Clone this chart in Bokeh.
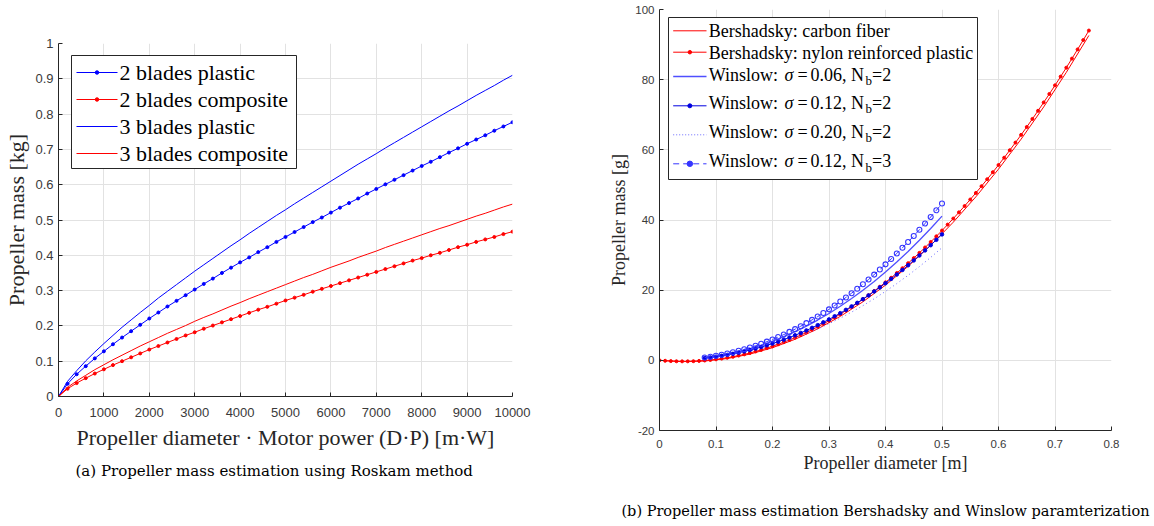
from bokeh.plotting import figure
from bokeh.models import Range1d, FixedTicker, Label, BoxAnnotation, Title, LinearAxis
from bokeh.layouts import row, column
from bokeh.embed import file_html
from bokeh.resources import INLINE

# ---------------- data: (a) Roskam ----------------
dp_mw = [0, 200, 400, 600, 800, 1000, 1200, 1400, 1600, 1800, 2000, 2200, 2400, 2600, 2800,
         3000, 3200, 3400, 3600, 3800, 4000, 4200, 4400, 4600, 4800, 5000, 5200, 5400, 5600,
         5800, 6000, 6200, 6400, 6600, 6800, 7000, 7200, 7400, 7600, 7800, 8000, 8200, 8400,
         8600, 8800, 9000, 9200, 9400, 9600, 9800, 10000]
mass_2b_plastic = [0, 0.036, 0.063, 0.086, 0.108, 0.128, 0.148, 0.167, 0.185, 0.203, 0.221, 0.238,
                   0.255, 0.271, 0.287, 0.303, 0.319, 0.334, 0.350, 0.365, 0.380, 0.394, 0.409,
                   0.423, 0.438, 0.452, 0.466, 0.480, 0.494, 0.507, 0.521, 0.535, 0.548, 0.561,
                   0.575, 0.588, 0.601, 0.614, 0.627, 0.640, 0.653, 0.665, 0.678, 0.691, 0.703,
                   0.716, 0.728, 0.740, 0.753, 0.765, 0.777]
mass_2b_composite = [0, 0.022, 0.038, 0.052, 0.065, 0.077, 0.089, 0.100, 0.111, 0.122, 0.133, 0.143,
                     0.153, 0.163, 0.173, 0.182, 0.192, 0.201, 0.210, 0.219, 0.228, 0.237, 0.246,
                     0.254, 0.263, 0.272, 0.280, 0.288, 0.297, 0.305, 0.313, 0.321, 0.329, 0.337,
                     0.345, 0.353, 0.361, 0.369, 0.377, 0.385, 0.392, 0.400, 0.407, 0.415, 0.423,
                     0.430, 0.438, 0.445, 0.452, 0.460, 0.467]
mass_3b_plastic = [0, 0.043, 0.073, 0.101, 0.126, 0.150, 0.173, 0.196, 0.217, 0.238, 0.258, 0.279,
                   0.298, 0.317, 0.336, 0.355, 0.373, 0.391, 0.409, 0.427, 0.444, 0.462, 0.479,
                   0.496, 0.513, 0.529, 0.546, 0.562, 0.578, 0.594, 0.610, 0.626, 0.642, 0.658,
                   0.673, 0.688, 0.704, 0.719, 0.734, 0.749, 0.764, 0.779, 0.794, 0.809, 0.823,
                   0.838, 0.853, 0.867, 0.881, 0.896, 0.910]
mass_3b_composite = [0, 0.026, 0.044, 0.060, 0.076, 0.090, 0.104, 0.117, 0.130, 0.143, 0.155, 0.167,
                     0.179, 0.190, 0.201, 0.213, 0.224, 0.234, 0.245, 0.256, 0.266, 0.277, 0.287,
                     0.297, 0.307, 0.317, 0.327, 0.337, 0.346, 0.356, 0.366, 0.375, 0.384, 0.394,
                     0.403, 0.412, 0.422, 0.431, 0.440, 0.449, 0.458, 0.467, 0.476, 0.484, 0.493,
                     0.502, 0.511, 0.519, 0.528, 0.537, 0.545]
a_xticks = [0, 1000, 2000, 3000, 4000, 5000, 6000, 7000, 8000, 9000, 10000]
a_xlabels = ["0", "1000", "2000", "3000", "4000", "5000", "6000", "7000", "8000", "9000", "10000"]
a_yticks = [0, 0.1, 0.2, 0.3, 0.4, 0.5, 0.6, 0.7, 0.8, 0.9, 1]
a_ylabels = ["0", "0.1", "0.2", "0.3", "0.4", "0.5", "0.6", "0.7", "0.8", "0.9", "1"]
a_names = ["2 blades plastic", "2 blades composite", "3 blades plastic", "3 blades composite"]
a_caption = "(a) Propeller mass estimation using Roskam method"

# ---------------- data: (b) Bershadsky / Winslow ----------------
diam_nylon = [0, 0.01, 0.02, 0.03, 0.04, 0.05, 0.06, 0.07, 0.08, 0.09, 0.10, 0.11, 0.12, 0.13,
              0.14, 0.15, 0.16, 0.17, 0.18, 0.19, 0.20, 0.21, 0.22, 0.23, 0.24, 0.25, 0.26, 0.27,
              0.28, 0.29, 0.30, 0.31, 0.32, 0.33, 0.34, 0.35, 0.36, 0.37, 0.38, 0.39, 0.40, 0.41,
              0.42, 0.43, 0.44, 0.45, 0.46, 0.47, 0.48, 0.49, 0.50, 0.51, 0.52, 0.53, 0.54, 0.55,
              0.56, 0.57, 0.58, 0.59, 0.60, 0.61, 0.62, 0.63, 0.64, 0.65, 0.66, 0.67, 0.68, 0.69,
              0.70, 0.71, 0.72, 0.73, 0.74, 0.75, 0.76]
mass_nylon = [0, -0.12, -0.21, -0.27, -0.29, -0.28, -0.24, -0.16, -0.05, 0.10, 0.28, 0.49, 0.74,
              1.03, 1.35, 1.70, 2.09, 2.52, 2.97, 3.47, 4.00, 4.57, 5.17, 5.80, 6.48, 7.19, 7.93,
              8.72, 9.53, 10.39, 11.28, 12.21, 13.17, 14.18, 15.22, 16.29, 17.41, 18.56, 19.75,
              20.98, 22.24, 23.54, 24.88, 26.26, 27.68, 29.14, 30.63, 32.17, 33.74, 35.35, 37.00,
              38.69, 40.42, 42.18, 43.99, 45.84, 47.73, 49.65, 51.62, 53.63, 55.67, 57.76, 59.89,
              62.06, 64.27, 66.52, 68.81, 71.14, 73.51, 75.93, 78.38, 80.88, 83.42, 86.00, 88.63,
              91.29, 94.00]
diam_carbon = [0, 0.04, 0.08, 0.12, 0.16, 0.20, 0.24, 0.28, 0.32, 0.36, 0.40, 0.44, 0.48, 0.52,
               0.56, 0.60, 0.64, 0.68, 0.72, 0.76]
mass_carbon = [0, -0.37, -0.20, 0.51, 1.77, 3.60, 6.00, 8.97, 12.53, 16.68, 21.43, 26.79, 32.77,
               39.38, 46.62, 54.50, 63.03, 72.22, 82.07, 92.60]
diam_winslow = [0.08, 0.10, 0.12, 0.14, 0.16, 0.18, 0.20, 0.22, 0.24, 0.26, 0.28, 0.30, 0.32,
                0.34, 0.36, 0.38, 0.40, 0.42, 0.44, 0.46, 0.48, 0.50]
mass_w006_n2 = [0.73, 1.19, 1.78, 2.50, 3.35, 4.34, 5.48, 6.76, 8.18, 9.75, 11.48, 13.36, 15.40,
                17.61, 19.96, 22.48, 25.16, 28.02, 31.03, 34.22, 37.58, 41.10]
mass_w020_n2 = [0.57, 0.93, 1.39, 1.95, 2.62, 3.39, 4.28, 5.27, 6.39, 7.62, 8.96, 10.43, 12.03,
                13.75, 15.58, 17.55, 19.65, 21.88, 24.23, 26.72, 29.34, 32.10]
diam_winslow_fine = [0.08, 0.09, 0.10, 0.11, 0.12, 0.13, 0.14, 0.15, 0.16, 0.17, 0.18, 0.19, 0.20,
                     0.21, 0.22, 0.23, 0.24, 0.25, 0.26, 0.27, 0.28, 0.29, 0.30, 0.31, 0.32, 0.33,
                     0.34, 0.35, 0.36, 0.37, 0.38, 0.39, 0.40, 0.41, 0.42, 0.43, 0.44, 0.45, 0.46,
                     0.47, 0.48, 0.49, 0.50]
mass_w012_n2 = [0.64, 0.83, 1.04, 1.28, 1.55, 1.85, 2.18, 2.54, 2.93, 3.35, 3.79, 4.27, 4.78, 5.33,
                5.90, 6.51, 7.14, 7.82, 8.52, 9.26, 10.03, 10.83, 11.67, 12.55, 13.45, 14.39,
                15.38, 16.38, 17.43, 18.51, 19.64, 20.79, 21.98, 23.21, 24.47, 25.77, 27.10,
                28.48, 29.89, 31.34, 32.82, 34.35, 35.90]
mass_w012_n3 = [0.79, 1.03, 1.30, 1.60, 1.94, 2.31, 2.72, 3.16, 3.65, 4.16, 4.72, 5.32, 5.95, 6.63,
                7.35, 8.10, 8.89, 9.73, 10.61, 11.53, 12.48, 13.49, 14.53, 15.62, 16.75, 17.92,
                19.14, 20.40, 21.70, 23.04, 24.44, 25.88, 27.36, 28.89, 30.46, 32.08, 33.74,
                35.45, 37.21, 39.01, 40.86, 42.76, 44.70]
b_xticks = [0, 0.1, 0.2, 0.3, 0.4, 0.5, 0.6, 0.7, 0.8]
b_xlabels = ["0", "0.1", "0.2", "0.3", "0.4", "0.5", "0.6", "0.7", "0.8"]
b_yticks = [-20, 0, 20, 40, 60, 80, 100]
b_ylabels = ["-20", "0", "20", "40", "60", "80", "100"]
b_sigma = ["0.06", "0.12", "0.20", "0.12"]
b_nb = ["2", "2", "2", "3"]
b_caption = "(b) Propeller mass estimation Bershadsky and Winslow paramterization"

SERIF = "Liberation Serif"
SANS = "Liberation Sans"
CAPFONT = "DejaVu Serif"
AX = "#262626"
BLUE = "#0000ff"
RED = "#ff0000"


def style(p, xt, xl, yt, yl, tick_size, label_size, xstand, xlstand, ystand, ylstand):
    p.outline_line_color = None
    p.background_fill_color = "white"
    p.border_fill_color = "white"
    for ax, ticks, labels in ((p.xaxis[0], xt, xl), (p.yaxis[0], yt, yl)):
        ax.ticker = FixedTicker(ticks=ticks)
        ax.major_label_overrides = dict(zip(ticks, labels))
        ax.minor_tick_line_color = None
        ax.major_tick_in = 4
        ax.major_tick_out = 0
        ax.axis_line_color = AX
        ax.major_tick_line_color = AX
        ax.major_label_text_font = SANS
        ax.major_label_text_font_size = tick_size
        ax.major_label_text_color = "#3a3a3a"
        ax.axis_label_text_font = SERIF
        ax.axis_label_text_font_style = "normal"
        ax.axis_label_text_font_size = label_size
        ax.axis_label_text_color = AX
    p.xaxis[0].major_label_standoff = xstand
    p.xaxis[0].axis_label_standoff = xlstand
    p.yaxis[0].major_label_standoff = ystand
    p.yaxis[0].axis_label_standoff = ylstand
    p.grid.grid_line_color = "#e2e2e2"
    p.grid.grid_line_width = 1


def add_label(p, txt, x, y, size, style_="normal", font=SERIF):
    p.add_layout(Label(x=x, y=y, text=txt, text_font=font, text_font_size=size,
                       text_font_style=style_, text_baseline="middle", text_align="left",
                       text_color="black", level="overlay"))


# ---------------- figure (a) ----------------
A_L, A_T, A_W, A_H = 58.0, 43.0, 454.0, 353.0   # frame in page pixels
p1 = figure(width=590, height=518, min_border_left=58, min_border_right=78,
            min_border_top=43, min_border_bottom=122,
            x_range=Range1d(0, 10000), y_range=Range1d(0, 1),
            x_axis_label="Propeller diameter \u00b7 Motor power (D\u00b7P) [m\u00b7W]",
            y_axis_label="Propeller mass [kg]",
            output_backend="svg", toolbar_location=None, tools="")
style(p1, a_xticks, a_xlabels, a_yticks, a_ylabels, "13px", "22px", 11, 5, 5, 3)

p1.line(dp_mw, mass_2b_plastic, line_color=BLUE, line_width=1)
p1.scatter(dp_mw, mass_2b_plastic, size=3, marker="circle", fill_color=BLUE, line_color=BLUE)
p1.line(dp_mw, mass_2b_composite, line_color=RED, line_width=1)
p1.scatter(dp_mw, mass_2b_composite, size=3, marker="circle", fill_color=RED, line_color=RED)
p1.line(dp_mw, mass_3b_plastic, line_color=BLUE, line_width=1)
p1.line(dp_mw, mass_3b_composite, line_color=RED, line_width=1)


def ax_(px):
    return (px - A_L) / A_W * 10000


def ay_(py):
    return 1 - (py - A_T) / A_H


p1.add_layout(BoxAnnotation(left=ax_(71), right=ax_(296), top=ay_(55), bottom=ay_(168),
                            fill_color="white", fill_alpha=1, line_color=AX, line_width=1,
                            line_alpha=1))
a_rows = [72.0, 99.0, 126.0, 153.0]
a_cols = [BLUE, RED, BLUE, RED]
for i, yy in enumerate(a_rows):
    p1.line([ax_(76), ax_(117)], [ay_(yy), ay_(yy)], line_color=a_cols[i], line_width=1,
            level="overlay")
    if i < 2:
        p1.scatter([ax_(96.5)], [ay_(yy)], size=3.5, marker="circle", fill_color=a_cols[i],
                   line_color=a_cols[i], level="overlay")
    add_label(p1, a_names[i], ax_(119), ay_(yy), "22px")

cap1 = Title(text=a_caption, align="left", offset=17,
             text_font=CAPFONT, text_font_size="15px", text_font_style="normal",
             text_color="black", standoff=15)
p1.add_layout(cap1, "below")

# ---------------- figure (b) ----------------
B_L, B_T, B_W, B_H = 659.0, 9.0, 452.0, 421.0
p2 = figure(width=564, height=526, min_border_left=69, min_border_right=43,
            min_border_top=9, min_border_bottom=96,
            x_range=Range1d(0, 0.8), y_range=Range1d(-20, 100),
            x_axis_label="Propeller diameter [m]", y_axis_label="Propeller mass [g]",
            output_backend="svg", toolbar_location=None, tools="")
style(p2, b_xticks, b_xlabels, b_yticks, b_ylabels, "11.5px", "18px", 9, 2, 5, 3)

# caption of panel (b): label of an otherwise invisible second bottom axis
cap_axis = LinearAxis(axis_label=b_caption, ticker=FixedTicker(ticks=[]),
                      axis_line_color=None, major_tick_line_color=None,
                      minor_tick_line_color=None, major_tick_in=0, major_tick_out=0,
                      major_label_standoff=0, major_label_text_font_size="1px",
                      axis_label_standoff=27, axis_label_text_font=CAPFONT,
                      axis_label_text_font_size="14.5px", axis_label_text_font_style="normal",
                      axis_label_text_color="black")
p2.add_layout(cap_axis, "below")

C_W06 = "#4f4fff"
C_W12 = "#0000e0"
C_W20 = "#6a6aff"
C_W123 = "#3535ff"

p2.line(diam_nylon, mass_nylon, line_color=RED, line_width=1)
p2.scatter(diam_nylon, mass_nylon, size=3, marker="circle", fill_color=RED, line_color=RED)
p2.line(diam_carbon, mass_carbon, line_color=RED, line_width=1)
p2.line(diam_winslow, mass_w020_n2, line_color=C_W20, line_width=1, line_dash="1 3")
p2.line(diam_winslow, mass_w006_n2, line_color=C_W06, line_width=1.3)
p2.line(diam_winslow_fine, mass_w012_n2, line_color=C_W12, line_width=1)
p2.scatter(diam_winslow_fine, mass_w012_n2, size=3.5, marker="circle", fill_color=C_W12,
           line_color=C_W12)
p2.line(diam_winslow_fine, mass_w012_n3, line_color=C_W123, line_width=1, line_dash="6 4")
p2.scatter(diam_winslow_fine, mass_w012_n3, size=5, marker="circle", fill_color=None,
           line_color=C_W123, line_width=1.1)


def rx(px):
    return (px - B_L) / B_W * 0.8


def ry(py):
    return 100 - (py - B_T) / B_H * 120


p2.add_layout(BoxAnnotation(left=rx(668), right=rx(977), top=ry(17), bottom=ry(179),
                            fill_color="white", fill_alpha=1, line_color=AX, line_width=1,
                            line_alpha=1))

sample_y = [30.3, 51.7, 76.0, 105.3, 134.3, 163.3]
text_y = [30.3, 52.0, 74.0, 102.0, 131.0, 160.5]
SX0, SX1 = 672.7, 706.0
sample_styles = [
    dict(line_color=RED, line_width=1),
    dict(line_color=RED, line_width=1),
    dict(line_color=C_W06, line_width=1.6),
    dict(line_color=C_W12, line_width=1),
    dict(line_color=C_W20, line_width=1, line_dash="1 2"),
    dict(line_color=C_W123, line_width=1, line_dash="6 4"),
]
for yy, st in zip(sample_y, sample_styles):
    p2.line([rx(SX0), rx(SX1)], [ry(yy), ry(yy)], level="overlay", **st)
SXM = (SX0 + SX1) / 2
p2.scatter([rx(SXM)], [ry(sample_y[1])], size=3.5, marker="circle",
           fill_color=RED, line_color=RED, level="overlay")
p2.scatter([rx(SXM)], [ry(sample_y[3])], size=4, marker="circle",
           fill_color=C_W12, line_color=C_W12, level="overlay")
p2.scatter([rx(SXM)], [ry(sample_y[5])], size=5.5, marker="circle",
           fill_color=C_W123, line_color=C_W123, level="overlay")

TX = 708.3
add_label(p2, "Bershadsky: carbon fiber", rx(TX), ry(text_y[0]), "18px")
add_label(p2, "Bershadsky: nylon reinforced plastic", rx(TX), ry(text_y[1]), "18px")
for i in range(4):
    ty = text_y[2 + i]
    add_label(p2, "Winslow:", rx(TX), ry(ty), "18px")
    add_label(p2, "\u03c3", rx(784.0), ry(ty), "18px", "italic")
    add_label(p2, "=", rx(797.0), ry(ty), "18px")
    add_label(p2, b_sigma[i] + ", N", rx(810.0), ry(ty), "18px")
    add_label(p2, "b", rx(865.0), ry(ty + 6), "13px")
    add_label(p2, "=" + b_nb[i], rx(871.5), ry(ty), "18px")

layout = row(p1, column(p2))
open("out.html", "w").write(file_html(layout, INLINE))
